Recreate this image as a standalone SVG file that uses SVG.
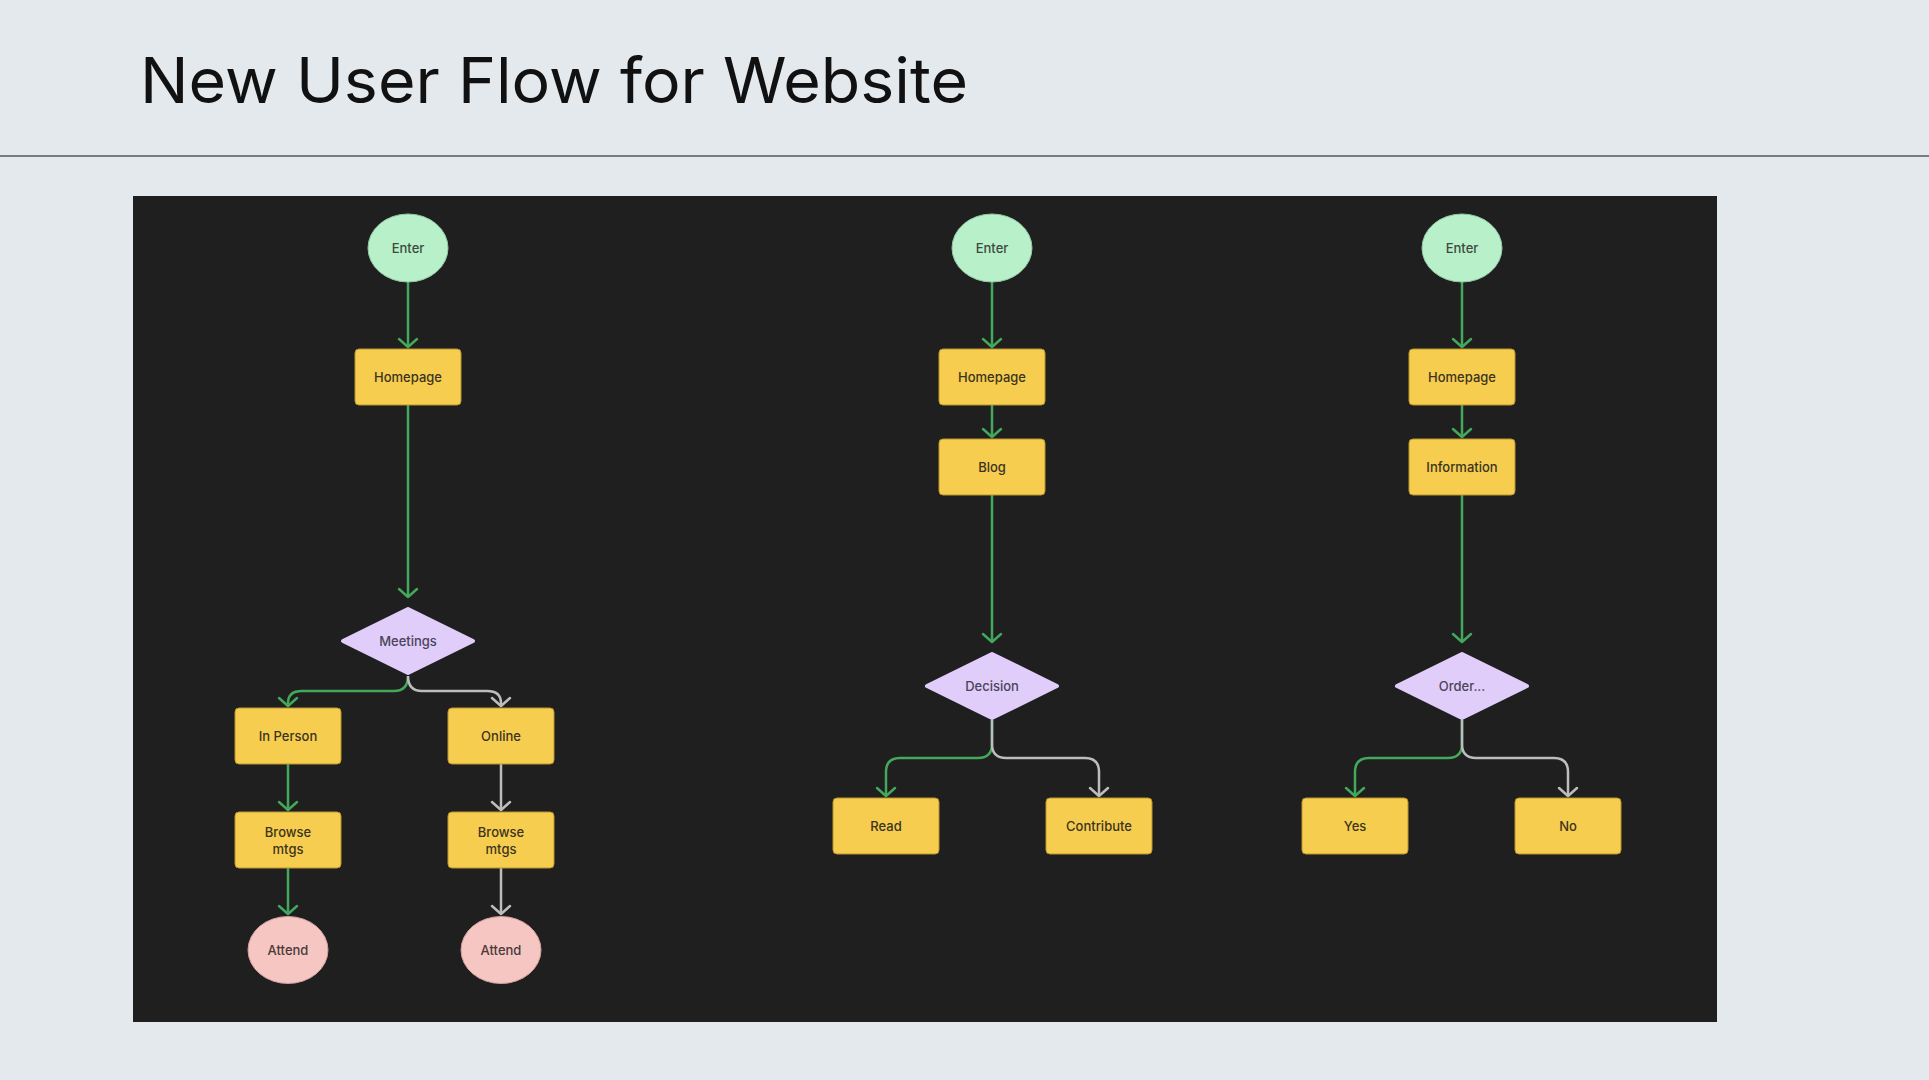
<svg xmlns="http://www.w3.org/2000/svg" width="1929" height="1080" viewBox="0 0 1929 1080">
<defs>
<style>
.lbl{font-family:Inter,"Noto Sans","Liberation Sans",sans-serif;font-size:13px;font-weight:500;text-anchor:middle}
.start{fill:#b8f0ca;stroke:#8fcaa3;stroke-width:1}
.end{fill:#f6c6c2;stroke:#d19e9a;stroke-width:1}
.box{fill:#f6cd4f;stroke:#b8952f;stroke-width:1}
.dec{fill:#e1cdfa;stroke:#e1cdfa;stroke-width:4;stroke-linejoin:round}
.tb{fill:#3b3420}
.tg{fill:#3c4a40}
.td{fill:#4a4458}
.tp{fill:#4a3a3a}
.g{fill:none;stroke:#43a85c;stroke-width:2.5;marker-end:url(#ag)}
.s{fill:none;stroke:#bdbdbd;stroke-width:2.5;marker-end:url(#as)}
</style>
<marker id="ag" viewBox="-12 -12 24 24" refX="0" refY="0" markerWidth="24" markerHeight="24" markerUnits="userSpaceOnUse" orient="auto">
<path d="M-8,-9 L0,0 L-8,9" fill="none" stroke="#43a85c" stroke-width="2.5" stroke-linecap="round" stroke-linejoin="round"/>
</marker>
<marker id="as" viewBox="-12 -12 24 24" refX="0" refY="0" markerWidth="24" markerHeight="24" markerUnits="userSpaceOnUse" orient="auto">
<path d="M-8,-9 L0,0 L-8,9" fill="none" stroke="#bdbdbd" stroke-width="2.5" stroke-linecap="round" stroke-linejoin="round"/>
</marker>
</defs>
<rect x="0" y="0" width="1929" height="1080" fill="#e4e9ed"/>
<text x="140" y="103" font-family="Inter,'Noto Sans','Liberation Sans',sans-serif" font-size="63" fill="#111111" textLength="828" lengthAdjust="spacingAndGlyphs">New User Flow for Website</text>
<line x1="0" y1="156" x2="1929" y2="156" stroke="#555a5e" stroke-width="1.5"/>
<rect x="133" y="196" width="1584" height="826" fill="#1f1f1f"/>

<g id="connectors">
<path class="g" d="M408,282 V347"/>
<path class="g" d="M408,405 V597"/>
<path class="g" d="M408,676 Q408,691 394,691 H302 Q288,691 288,703 V706"/>
<path class="s" d="M408,676 Q408,691 422,691 H487 Q501,691 501,703 V706"/>
<path class="g" d="M288,764 V810"/>
<path class="g" d="M288,868 V914"/>
<path class="s" d="M501,764 V810"/>
<path class="s" d="M501,868 V914"/>

<path class="g" d="M992,282 V347"/>
<path class="g" d="M992,405 V437"/>
<path class="g" d="M992,495 V642"/>
<path class="g" d="M992,720 V744 Q992,758 978,758 H900 Q886,758 886,772 V796"/>
<path class="s" d="M992,720 V744 Q992,758 1006,758 H1085 Q1099,758 1099,772 V796"/>

<path class="g" d="M1462,282 V347"/>
<path class="g" d="M1462,405 V437"/>
<path class="g" d="M1462,495 V642"/>
<path class="g" d="M1462,720 V744 Q1462,758 1448,758 H1369 Q1355,758 1355,772 V796"/>
<path class="s" d="M1462,720 V744 Q1462,758 1476,758 H1554 Q1568,758 1568,772 V796"/>
</g>

<g id="enter1"><ellipse class="start" cx="408" cy="248" rx="40" ry="34"/><text class="lbl tg" x="408" y="252.5">Enter</text></g>
<g id="homepage1"><rect class="box" x="355" y="349" width="106" height="56" rx="4"/><text class="lbl tb" x="408" y="381.5">Homepage</text></g>
<g id="meetings"><polygon class="dec" points="408,609 473,641 408,673 343,641"/><text class="lbl td" x="408" y="645.5">Meetings</text></g>
<g id="inperson"><rect class="box" x="235" y="708" width="106" height="56" rx="4"/><text class="lbl tb" x="288" y="740.5">In Person</text></g>
<g id="online"><rect class="box" x="448" y="708" width="106" height="56" rx="4"/><text class="lbl tb" x="501" y="740.5">Online</text></g>
<g id="browse1"><rect class="box" x="235" y="812" width="106" height="56" rx="4"/><text class="lbl tb" x="288" y="836.5">Browse</text><text class="lbl tb" x="288" y="853.5">mtgs</text></g>
<g id="browse2"><rect class="box" x="448" y="812" width="106" height="56" rx="4"/><text class="lbl tb" x="501" y="836.5">Browse</text><text class="lbl tb" x="501" y="853.5">mtgs</text></g>
<g id="attend1"><ellipse class="end" cx="288" cy="950" rx="40" ry="33.5"/><text class="lbl tp" x="288" y="954.5">Attend</text></g>
<g id="attend2"><ellipse class="end" cx="501" cy="950" rx="40" ry="33.5"/><text class="lbl tp" x="501" y="954.5">Attend</text></g>

<g id="enter2"><ellipse class="start" cx="992" cy="248" rx="40" ry="34"/><text class="lbl tg" x="992" y="252.5">Enter</text></g>
<g id="homepage2"><rect class="box" x="939" y="349" width="106" height="56" rx="4"/><text class="lbl tb" x="992" y="381.5">Homepage</text></g>
<g id="blog"><rect class="box" x="939" y="439" width="106" height="56" rx="4"/><text class="lbl tb" x="992" y="471.5">Blog</text></g>
<g id="decision"><polygon class="dec" points="992,654 1057,686 992,718 927,686"/><text class="lbl td" x="992" y="690.5">Decision</text></g>
<g id="read"><rect class="box" x="833" y="798" width="106" height="56" rx="4"/><text class="lbl tb" x="886" y="830.5">Read</text></g>
<g id="contribute"><rect class="box" x="1046" y="798" width="106" height="56" rx="4"/><text class="lbl tb" x="1099" y="830.5">Contribute</text></g>

<g id="enter3"><ellipse class="start" cx="1462" cy="248" rx="40" ry="34"/><text class="lbl tg" x="1462" y="252.5">Enter</text></g>
<g id="homepage3"><rect class="box" x="1409" y="349" width="106" height="56" rx="4"/><text class="lbl tb" x="1462" y="381.5">Homepage</text></g>
<g id="information"><rect class="box" x="1409" y="439" width="106" height="56" rx="4"/><text class="lbl tb" x="1462" y="471.5">Information</text></g>
<g id="order"><polygon class="dec" points="1462,654 1527,686 1462,718 1397,686"/><text class="lbl td" x="1462" y="690.5">Order...</text></g>
<g id="yes"><rect class="box" x="1302" y="798" width="106" height="56" rx="4"/><text class="lbl tb" x="1355" y="830.5">Yes</text></g>
<g id="no"><rect class="box" x="1515" y="798" width="106" height="56" rx="4"/><text class="lbl tb" x="1568" y="830.5">No</text></g>
</svg>
